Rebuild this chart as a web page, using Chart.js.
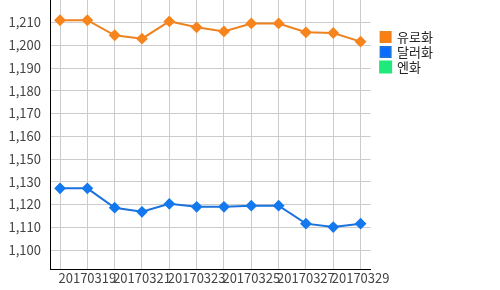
<!DOCTYPE html>
<html>
<head>
<meta charset="utf-8">
<script src="https://cdn.jsdelivr.net/npm/chart.js@4.4.0/dist/chart.umd.min.js"></script>
<style>
html, body { margin: 0; padding: 0; background: #fff; }
#wrap { width: 500px; height: 290px; }
</style>
</head>
<body>
<div id="wrap"><canvas id="rateChart"></canvas></div>
<script>
var dates = ['20170318', '20170319', '20170320', '20170321', '20170322', '20170323',
	'20170324', '20170325', '20170326', '20170327', '20170328', '20170329'];
var euro = [1211.0, 1211.0, 1204.4, 1202.9, 1210.5, 1207.9, 1206.1, 1209.6, 1209.6, 1205.7, 1205.4, 1201.6];
var dollar = [1127.1, 1127.1, 1118.6, 1116.8, 1120.3, 1119.0, 1119.0, 1119.5, 1119.5, 1111.6, 1110.1, 1111.6];
var yen = [];
// the axis is broken: 1,140 is left out between 1,130 and 1,150
var yTicks = [1100, 1110, 1120, 1130, 1150, 1160, 1170, 1180, 1190, 1200, 1210];

var FONT = '"Noto Sans CJK KR", "Noto Sans", sans-serif';

// value -> position on the tick slots (0 = first tick, 1 = next tick ...)
function toSlot(v) {
	var last = yTicks.length - 1;
	for (var i = 0; i < last; i++) {
		if (v <= yTicks[i + 1] || i === last - 1) {
			return i + (v - yTicks[i]) / (yTicks[i + 1] - yTicks[i]);
		}
	}
}

function points(values) {
	return values.map(function(v, i) {
		return { x: i, y: toSlot(v), value: v };
	});
}

function noPadding(scale) {
	scale.paddingTop = 0;
	scale.paddingBottom = 0;
	scale.paddingLeft = 0;
	scale.paddingRight = 0;
}

new Chart(document.getElementById('rateChart'), {
	type: 'line',
	data: {
		datasets: [{
			label: '유로화',
			data: points(euro),
			borderColor: '#ec8220',
			backgroundColor: '#ff7f0e',
			pointBackgroundColor: '#f7841c',
			pointBorderColor: '#f7841c',
			borderWidth: 2,
			pointStyle: 'rectRot',
			pointRadius: 4.5,
			tension: 0
		}, {
			label: '달러화',
			data: points(dollar),
			borderColor: '#1c72dc',
			backgroundColor: '#0a6cff',
			pointBackgroundColor: '#1479ee',
			pointBorderColor: '#1479ee',
			borderWidth: 2,
			pointStyle: 'rectRot',
			pointRadius: 4.5,
			tension: 0
		}, {
			label: '엔화',
			data: points(yen),
			borderColor: '#1ee97a',
			backgroundColor: '#1ee97a'
		}]
	},
	options: {
		responsive: true,
		maintainAspectRatio: false,
		animation: false,
		layout: { autoPadding: false, padding: { right: 57 } },
		plugins: {
			tooltip: { enabled: false },
			legend: {
				position: 'right',
				align: 'start',
				title: { display: true, text: '', padding: { top: 14, bottom: 0 } },
				labels: {
					boxWidth: 10,
					boxHeight: 10,
					padding: 2,
					color: '#222',
					font: { family: FONT, size: 13 }
				}
			}
		},
		scales: {
			x: {
				type: 'linear',
				min: -0.367,
				max: 11.367,
				afterFit: function(scale) {
					scale.height = 21;
					noPadding(scale);
				},
				grid: { color: '#cccccc', drawTicks: false },
				border: { color: '#000', width: 1 },
				ticks: {
					stepSize: 1,
					autoSkip: false,
					maxRotation: 0,
					includeBounds: false,
					padding: 1,
					color: '#444',
					font: { family: FONT, size: 13 },
					callback: function(value) {
						return value % 2 === 1 ? dates[value] : '';
					}
				}
			},
			y: {
				min: -0.834,
				max: 10.99,
				afterFit: function(scale) {
					scale.width = 50;
					noPadding(scale);
				},
				grid: { color: '#cccccc', drawTicks: false },
				border: { color: '#000', width: 1 },
				ticks: {
					stepSize: 1,
					includeBounds: false,
					padding: 9,
					color: '#444',
					font: { family: FONT, size: 13 },
					callback: function(value) {
						return yTicks[value] !== undefined ? yTicks[value].toLocaleString('en-US') : '';
					}
				}
			},
			// empty strip between the plot and the legend
			gap: {
				type: 'linear',
				position: 'right',
				grid: { display: false },
				border: { display: false },
				ticks: { display: false },
				afterFit: function(scale) {
					scale.width = 8;
					noPadding(scale);
				}
			}
		}
	}
});
</script>
</body>
</html>
